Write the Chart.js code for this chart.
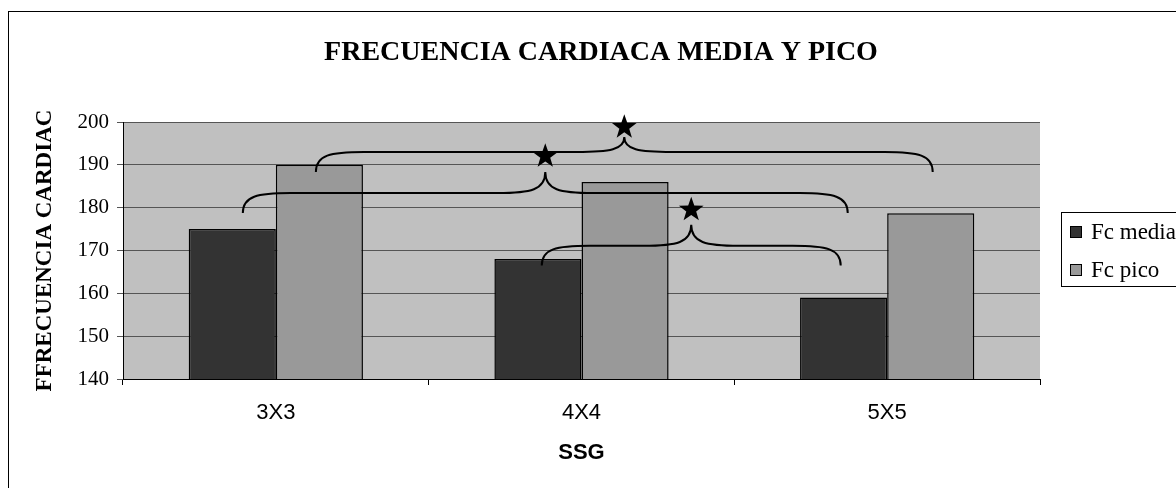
<!DOCTYPE html>
<html>
<head>
<meta charset="utf-8">
<script src="https://cdn.jsdelivr.net/npm/chart.js@4.4.1/dist/chart.umd.min.js"></script>
<style>
  html, body { margin: 0; padding: 0; background: #fff; }
  #wrap { width: 1176px; height: 488px; }
</style>
</head>
<body>
<div id="wrap"><canvas id="c" width="1176" height="488"></canvas></div>
<script>
// ── data ────────────────────────────────────────────────
const chartTitle = 'FRECUENCIA CARDIACA MEDIA Y PICO';
const categories = ['3X3', '4X4', '5X5'];
const fcMedia = [175, 168, 159];
const fcPico = [190, 186, 178.7];
const yTicks = [140, 150, 160, 170, 180, 190, 200];

// significance braces: span in category index units, heights in bpm
const braceFrom = [-0.108, 0.131, 0.870];
const braceTo = [1.871, 2.149, 1.848];
const braceEnd = [178.75, 188.3, 166.5];
const braceLevel = [183.4, 193.0, 171.1];
const bracePeak = [188.3, 196.5, 176.0];
const starLevel = [192.0, 198.8, 179.5];

const SERIF = '"Liberation Serif", "Times New Roman", serif';
const SANS = '"Liberation Sans", Arial, sans-serif';

// grey plot background, outer frame and title
const backdrop = {
    id: 'backdrop',
    beforeDraw(chart) {
        const { ctx, chartArea: a } = chart;
        ctx.save();
        ctx.fillStyle = '#fff';
        ctx.fillRect(0, 0, chart.width, chart.height);
        ctx.strokeStyle = '#000';
        ctx.lineWidth = 1;
        ctx.strokeRect(8.5, 11.5, chart.width + 20, chart.height + 20);
        ctx.fillStyle = '#c0c0c0';
        ctx.fillRect(a.left, a.top, a.right - a.left, a.bottom - a.top);
        ctx.fillStyle = '#000';
        ctx.font = 'bold 28px ' + SERIF;
        ctx.textAlign = 'center';
        ctx.textBaseline = 'middle';
        ctx.fillText(chartTitle, 601, 53);
        ctx.restore();
    }
};

function star(ctx, cx, cy, R) {
    const r = R * 0.4;
    ctx.beginPath();
    for (let i = 0; i < 10; i++) {
        const ang = -Math.PI / 2 + i * Math.PI / 5;
        const rad = i % 2 ? r : R;
        ctx.lineTo(cx + rad * Math.cos(ang), cy + rad * Math.sin(ang));
    }
    ctx.closePath();
    ctx.fill();
}

const braces = {
    id: 'braces',
    afterDatasetsDraw(chart) {
        const { ctx, scales: { x, y } } = chart;
        const r = 48;
        ctx.save();
        ctx.strokeStyle = '#000';
        ctx.fillStyle = '#000';
        ctx.lineWidth = 2;
        braceFrom.forEach((f, i) => {
            const xl = x.getPixelForValue(f);
            const xr = x.getPixelForValue(braceTo[i]);
            const xc = (xl + xr) / 2;
            const ye = y.getPixelForValue(braceEnd[i]);
            const ym = y.getPixelForValue(braceLevel[i]);
            const yp = y.getPixelForValue(bracePeak[i]);
            ctx.beginPath();
            ctx.moveTo(xl, ye);
            ctx.bezierCurveTo(xl, ym + (ye - ym) * 0.15, xl + r * 0.3, ym, xl + r, ym);
            ctx.lineTo(xc - r, ym);
            ctx.bezierCurveTo(xc - r * 0.3, ym, xc, ym - (ym - yp) * 0.15, xc, yp);
            ctx.bezierCurveTo(xc, ym - (ym - yp) * 0.15, xc + r * 0.3, ym, xc + r, ym);
            ctx.lineTo(xr - r, ym);
            ctx.bezierCurveTo(xr - r * 0.3, ym, xr, ym + (ye - ym) * 0.15, xr, ye);
            ctx.stroke();
            star(ctx, xc, y.getPixelForValue(starLevel[i]), 13);
        });
        ctx.restore();
    }
};

// boxed legend on the right
const sideLegend = {
    id: 'sideLegend',
    afterDraw(chart) {
        const { ctx } = chart;
        ctx.save();
        ctx.strokeStyle = '#000';
        ctx.lineWidth = 1;
        ctx.strokeRect(1061.5, 212.5, 200, 74);
        ctx.font = '23px ' + SERIF;
        ctx.textBaseline = 'middle';
        chart.data.datasets.forEach((ds, i) => {
            const cy = 232 + i * 38;
            ctx.fillStyle = ds.backgroundColor;
            ctx.fillRect(1070.5, cy - 5.5, 11, 11);
            ctx.strokeRect(1070.5, cy - 5.5, 11, 11);
            ctx.fillStyle = '#000';
            ctx.fillText(ds.label, 1091, cy + 1);
        });
        ctx.restore();
    }
};

new Chart(document.getElementById('c'), {
    type: 'bar',
    data: {
        labels: categories,
        datasets: [
            { label: 'Fc media', data: fcMedia, backgroundColor: '#333333', borderColor: '#000', borderWidth: 1.5 },
            { label: 'Fc pico', data: fcPico, backgroundColor: '#999999', borderColor: '#000', borderWidth: 1.5 }
        ]
    },
    options: {
        responsive: false,
        animation: false,
        events: [],
        categoryPercentage: 0.57,
        barPercentage: 1,
        layout: { padding: { left: 0, right: 136, top: 122, bottom: 0 } },
        plugins: {
            legend: { display: false },
            tooltip: { enabled: false },
            title: { display: false }
        },
        scales: {
            x: {
                afterFit(scale) { scale.height = 109; },
                grid: { offset: true, drawOnChartArea: false, drawTicks: true, tickLength: 6, color: '#000' },
                border: { color: '#000', width: 1 },
                ticks: { color: '#000', font: { family: SANS, size: 22 }, padding: 15 },
                title: { display: true, text: 'SSG', color: '#000', font: { family: SANS, size: 22, weight: 'bold' }, padding: { top: 0, bottom: 22 } }
            },
            y: {
                min: 140,
                max: 200,
                afterBuildTicks(scale) { scale.ticks = yTicks.map(v => ({ value: v })); },
                afterFit(scale) { scale.width = 123; },
                grid: { color: '#555', lineWidth: 1, tickLength: 6 },
                border: { color: '#000', width: 1 },
                ticks: { color: '#000', font: { family: SERIF, size: 21 }, padding: 8 },
                title: { display: true, text: 'FFRECUENCIA CARDIAC', color: '#000', font: { family: SERIF, size: 23, weight: 'bold' }, padding: { top: 31, bottom: 0 } }
            }
        }
    },
    plugins: [backdrop, braces, sideLegend]
});
</script>
</body>
</html>
